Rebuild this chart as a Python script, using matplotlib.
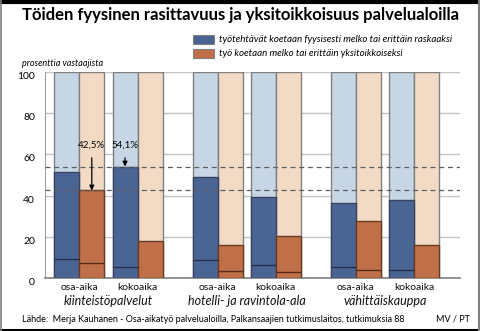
import matplotlib.pyplot as plt
from matplotlib.patches import Rectangle
from matplotlib.lines import Line2D

plt.rcParams['font.family'] = ['Lato', 'DejaVu Sans']

groups = ["kiinteistöpalvelut", "hotelli- ja ravintola-ala", "vähittäiskauppa"]
jobs = ["osa-aika", "kokoaika"]
# per group: [osa-aika, kokoaika]
raskas = [[51.3, 54.1], [48.9, 39.3], [36.3, 37.8]]
raskas_erittain = [[9.2, 5.6], [8.7, 6.6], [5.3, 3.9]]
yksitoikk = [[42.5, 18.2], [16.0, 20.3], [27.6, 16.0]]
yksitoikk_erittain = [[7.4, None], [3.4, 2.9], [3.9, None]]
ref_lines = [54.1, 42.5]
ref_labels = ["54,1%", "42,5%"]

c_blue, c_blue_l = "#4a6594", "#c6d6e5"
c_or, c_or_l = "#c07048", "#f2dac5"
edge = "#808080"

W, H = 480, 331
fig = plt.figure(figsize=(W / 100, H / 100), dpi=100)

def fx(px):
    return px / W

def fy(py):
    return 1 - py / H

ax = fig.add_axes([fx(44.7), fy(278.3), fx(460) - fx(44.7), fy(71.7) - fy(278.3)])

bw = 1.0
pair_gap = 0.33
group_step = 5.53

for gi in range(len(groups)):
    for ji in range(len(jobs)):
        left = gi * group_step + ji * (2 * bw + pair_gap)
        xb = left + bw / 2
        xo = left + 1.5 * bw
        # background (100 %)
        ax.bar(xb, 100, bw, color=c_blue_l, edgecolor=edge, lw=1, zorder=2)
        ax.bar(xo, 100, bw, color=c_or_l, edgecolor=edge, lw=1, zorder=2)
        ax.bar(xb, raskas[gi][ji], bw, color=c_blue, edgecolor="#3a4460", lw=1, zorder=3)
        ax.bar(xo, yksitoikk[gi][ji], bw, color=c_or, edgecolor="#6a3a24", lw=1, zorder=3)
        ax.hlines(raskas_erittain[gi][ji], xb - bw / 2, xb + bw / 2, color="#26304a", lw=1, zorder=4)
        if yksitoikk_erittain[gi][ji] is not None:
            ax.hlines(yksitoikk_erittain[gi][ji], xo - bw / 2, xo + bw / 2, color="#5a2a18", lw=1, zorder=4)
        ax.text(left + bw, -2.5, jobs[ji], ha="center", va="top", fontsize=7.5, color="#111")
    gc = gi * group_step + (4 * bw + pair_gap) / 2
    ax.text(gc, -8.3, groups[gi], ha="center", va="top", fontsize=9, style="italic", color="#111")

for v in ref_lines:
    ax.axhline(v, color="#606060", lw=0.9, ls=(0, (4, 3)), zorder=5)

# arrows to the reference values
ax.annotate(ref_labels[1], xy=(1.5, ref_lines[1]), xytext=(1.5, 64.5),
            ha="center", va="center", fontsize=7, zorder=6,
            arrowprops=dict(arrowstyle="-|>", color="black", lw=0.9, mutation_scale=7, shrinkA=4, shrinkB=0))
ax.annotate(ref_labels[0], xy=(2.83, ref_lines[0]), xytext=(2.83, 64.5),
            ha="center", va="center", fontsize=7, zorder=6,
            arrowprops=dict(arrowstyle="-|>", color="black", lw=0.9, mutation_scale=7, shrinkA=4, shrinkB=0))

ax.set_xlim(-0.384, 16.23)
ax.set_ylim(0, 100)
ax.set_yticks(range(0, 101, 20))
ax.yaxis.grid(True, color="#c4c4c4", lw=1)
ax.set_axisbelow(True)
ax.set_xticks([])
ax.tick_params(axis="y", length=0, pad=7, labelsize=7.5)
for lab in ax.get_yticklabels():
    lab.set_verticalalignment("top")
for s in ["top", "right"]:
    ax.spines[s].set_visible(False)
ax.spines["left"].set_color("#a0a0a0")
ax.spines["bottom"].set_color("#808080")
ax.spines["bottom"].set_linewidth(1.2)

# title, legend, notes
fig.text(fx(22), fy(15), "Töiden fyysinen rasittavuus ja yksitoikkoisuus palvelualoilla",
         fontsize=12, fontweight="bold", ha="left", va="center")
fig.text(fx(22), fy(63), "prosenttia vastaajista", fontsize=6.5, style="italic", ha="left", va="center")
leg = [("työtehtävät koetaan fyysisesti melko tai erittäin raskaaksi", c_blue, 34.7),
       ("työ koetaan melko tai erittäin yksitoikkoiseksi", c_or, 48.7)]
for txt, col, top in leg:
    fig.patches.append(Rectangle((fx(192.7), fy(top + 9)), fx(21.6), fy(top) - fy(top + 9),
                                 transform=fig.transFigure, facecolor=col, edgecolor=edge, lw=0.8))
    fig.text(fx(219), fy(top + 4.5), txt, fontsize=7, style="italic", ha="left", va="center")

fig.text(fx(22), fy(319.5), "Lähde:  Merja Kauhanen - Osa-aikatyö palvelualoilla, Palkansaajien tutkimuslaitos, tutkimuksia 88",
         fontsize=6.5, ha="left", va="center")
fig.text(fx(470), fy(319.5), "MV / PT", fontsize=6.5, ha="right", va="center")

# frame
fig.lines.append(Line2D([0, 1], [fy(1.5), fy(1.5)], transform=fig.transFigure, color="black", lw=3))
fig.lines.append(Line2D([0, 1], [fy(329.5), fy(329.5)], transform=fig.transFigure, color="black", lw=2.2))
fig.lines.append(Line2D([fx(1), fx(1)], [0, 1], transform=fig.transFigure, color="#808080", lw=1.2))
fig.lines.append(Line2D([fx(478.5), fx(478.5)], [0, 1], transform=fig.transFigure, color="#808080", lw=1.5))

fig.savefig("out.png", dpi=100)
